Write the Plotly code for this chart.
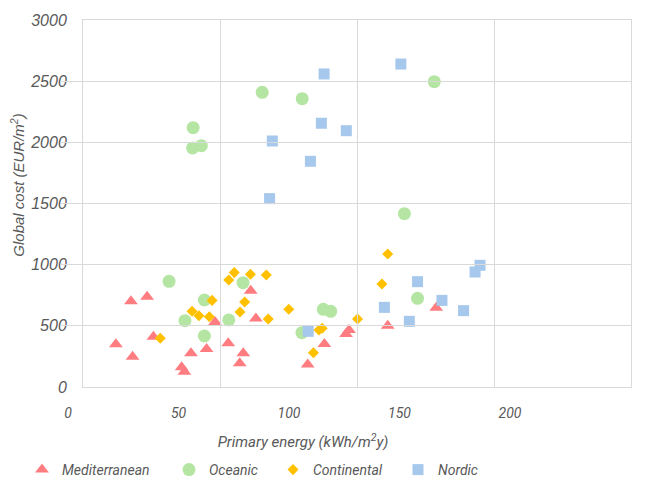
import plotly.graph_objects as go

# ---- data ----
med_x = [12.0, 17.5, 23.4, 18.1, 25.7, 36.0, 37.0, 39.4, 45.1, 48.2, 53.0, 58.5, 57.2, 61.2, 63.1, 82.0, 88.1, 97.1, 96.0, 111.2, 128.9]
med_y = [349, 700, 738, 248, 411, 161, 125, 275, 311, 531, 357, 275, 194, 787, 559, 183, 352, 466, 433, 501, 648]

oce_x = [40.2, 40.0, 43.2, 65.4, 80.0, 128.2, 117.3, 31.4, 44.3, 37.2, 44.3, 53.2, 58.4, 79.9, 87.7, 90.4, 122.1]
oce_y = [2120, 1954, 1973, 2409, 2357, 2496, 1417, 864, 711, 542, 417, 548, 853, 444, 635, 619, 725]

con_x = [28.2, 39.8, 42.3, 46.1, 47.1, 53.2, 55.2, 61.1, 66.9, 59.0, 57.3, 67.6, 75.1, 86.1, 87.3, 84.1, 100.2, 109.1, 111.2]
con_y = [398, 619, 583, 575, 708, 875, 935, 921, 915, 695, 613, 556, 635, 466, 480, 280, 556, 842, 1087]

nor_x = [88.0, 69.1, 87.0, 83.0, 68.1, 116.0, 96.1, 82.2, 110.0, 119.1, 122.1, 131.0, 138.9, 143.1, 144.9]
nor_y = [2559, 2011, 2156, 1845, 1540, 2640, 2095, 455, 651, 537, 861, 708, 624, 940, 995]

x_tick_vals = [0, 50, 100, 150, 200]
x_tick_text = ["0", "50", "100", "150", "200"]
y_tick_vals = [0, 500, 1000, 1500, 2000, 2500, 3000]
y_tick_text = ["0", "500", "1000", "1500", "2000", "2500", "3000"]

series_names = ["Mediterranean", "Oceanic", "Continental", "Nordic"]

# ---- styling ----
GRAY_TXT = "#595959"
GRID = "#d9d9d9"
OFF = 8                      # page body margin in the browser
W, H = 645 - OFF, 477 - OFF  # figure size so that it fills the window
# plot-area / paper edges expressed in window pixels
PAPER_L, PLOT_L, PLOT_R, PLOT_T, PLOT_B = 60, 83, 631, 20, 387
ML = PAPER_L - OFF
MR = W - (PLOT_R - OFF)
MT = PLOT_T - OFF
MB = H - (PLOT_B - OFF)

def px_to_paper_x(p):
    return (p - OFF - ML) / (W - ML - MR)

def px_to_paper_y(p):
    return (H - MB - (p - OFF)) / (H - MT - MB)

fig = go.Figure()

styles = [
    (med_x, med_y, "triangle-up", 12, "#FF7C80"),
    (oce_x, oce_y, "circle", 13, "#B4E5A2"),
    (con_x, con_y, "diamond", 8.5, "#FFC000"),
    (nor_x, nor_y, "square", 11, "#A6C8EC"),
]
legend_ids = ["legend", "legend2", "legend3", "legend4"]
for name, lid, (xs, ys, sym, sz, col) in zip(series_names, legend_ids, styles):
    fig.add_trace(go.Scatter(
        x=xs, y=ys, mode="markers", name=name, legend=lid,
        marker=dict(symbol=sym, size=sz, color=col, line=dict(width=0)),
        xaxis="x", yaxis="y",
    ))

# helper traces so the label-only axes exist
fig.add_trace(go.Scatter(x=[None], y=[None], xaxis="x2", yaxis="y",
                         showlegend=False, hoverinfo="skip"))
fig.add_trace(go.Scatter(x=[None], y=[None], xaxis="x", yaxis="y2",
                         showlegend=False, hoverinfo="skip"))

# x tick labels in the reference sit on a slightly compressed scale
lab0, lab200 = 68, 510
scale = (lab200 - lab0) / 200.0
x2_left_px, x2_right_px = PAPER_L, 546
x2_range = [(x2_left_px - lab0) / scale, (x2_right_px - lab0) / scale]

tick_font_x = dict(family="Roboto", size=14, color=GRAY_TXT, style="italic")
legend_font = dict(family="Roboto", size=14, color=GRAY_TXT, style="italic")

# legend entries: symbol centres in window pixels
legend_symbol_px = [42, 189, 293, 418]
legend_layout = {}
for lid, sx in zip(legend_ids, legend_symbol_px):
    legend_layout[lid] = dict(
        orientation="h", x=px_to_paper_x(sx - 20), y=px_to_paper_y(470),
        xanchor="left", yanchor="middle", font=legend_font,
        itemwidth=30, bgcolor="rgba(0,0,0,0)",
    )

fig.update_layout(
    width=W, height=H,
    margin=dict(l=ML, r=MR, t=MT, b=MB, autoexpand=False),
    paper_bgcolor="white",
    plot_bgcolor="rgba(0,0,0,0)",
    showlegend=True,
    **legend_layout,
    xaxis=dict(
        domain=[px_to_paper_x(PLOT_L), 1.0], anchor="y",
        range=[0, 200], tickvals=x_tick_vals, showticklabels=False,
        showgrid=True, gridcolor=GRID, gridwidth=1,
        showline=True, linecolor=GRID, linewidth=1, mirror=True,
        zeroline=False, ticks="",
    ),
    xaxis2=dict(
        domain=[0.0, px_to_paper_x(x2_right_px)], anchor="y",
        range=x2_range, tickvals=x_tick_vals, ticktext=x_tick_text,
        showgrid=False, showline=False, zeroline=False, ticks="",
        tickfont=tick_font_x, ticklabelstandoff=16,
        title=dict(text="Primary energy (kWh/m<sup>2</sup>y)",
                   font=dict(family="Roboto", size=15, color=GRAY_TXT, style="italic"),
                   standoff=16),
    ),
    yaxis=dict(
        domain=[0.0, 1.0], anchor="x",
        range=[0, 3000], tickvals=y_tick_vals, ticktext=y_tick_text,
        showgrid=True, gridcolor=GRID, gridwidth=1,
        showline=True, linecolor=GRID, linewidth=1, mirror=True,
        zeroline=False, ticks="",
        tickfont=dict(family="Liberation Sans", size=16, color=GRAY_TXT, style="italic"),
        ticklabelstandoff=12,
    ),
    yaxis2=dict(
        domain=[px_to_paper_y(350), 1.0], anchor="x",
        range=[0, 1], showticklabels=False, showgrid=False,
        showline=False, zeroline=False, ticks="",
        title=dict(text="Global cost (EUR/m<sup>2</sup>)",
                   font=dict(family="Liberation Sans", size=15, color=GRAY_TXT, style="italic"),
                   standoff=54),
    ),
)

fig.write_html("out.html")
